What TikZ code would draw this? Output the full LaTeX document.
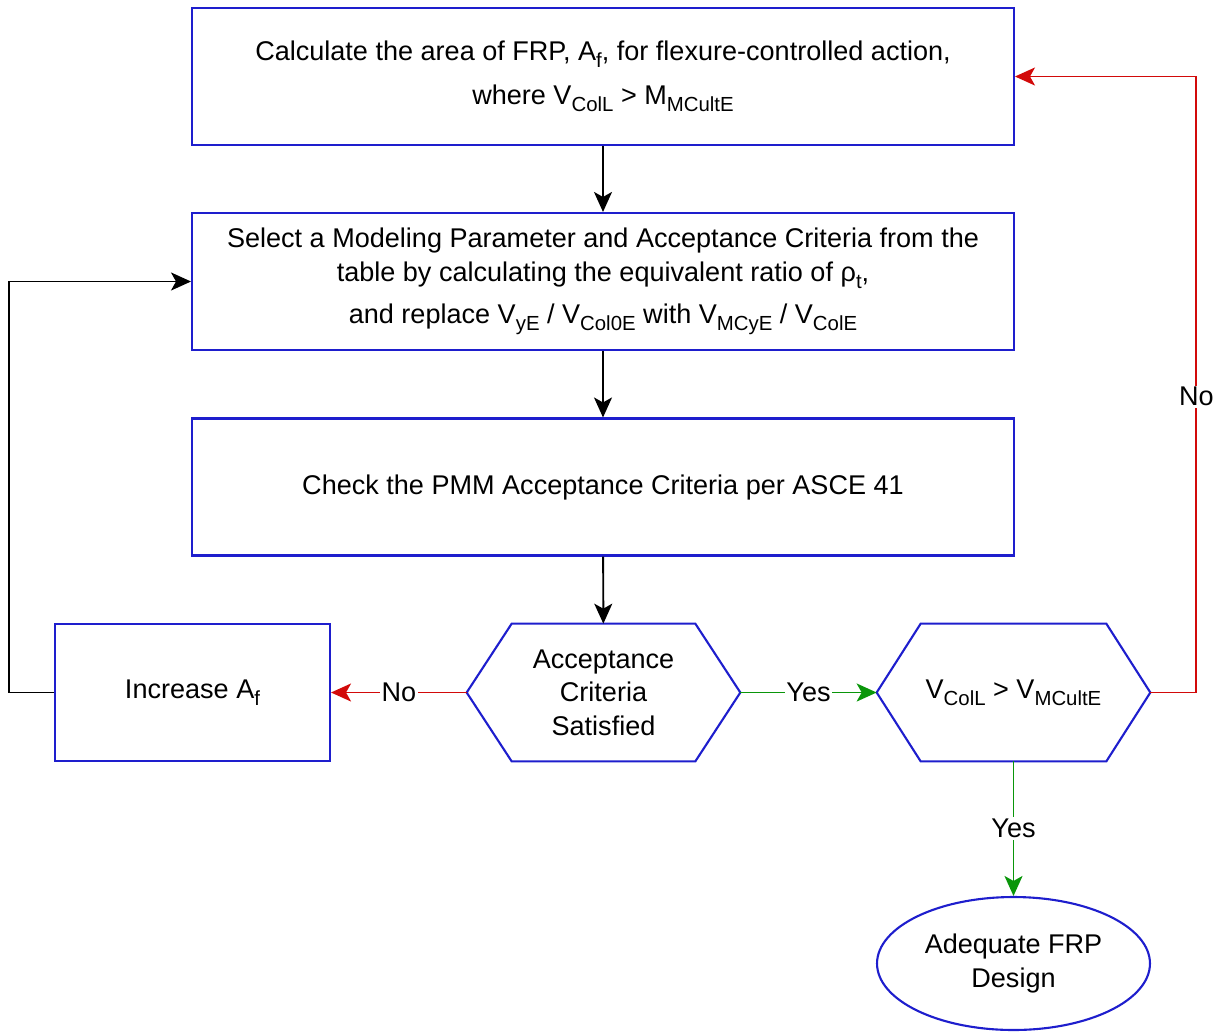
\documentclass[tikz,border=0pt]{standalone}
\usepackage{fontspec}
\setmainfont{Liberation Sans}
\usetikzlibrary{arrows.meta,shapes.geometric}
\definecolor{boxblue}{RGB}{30,30,205}
\definecolor{nored}{RGB}{210,10,10}
\definecolor{yesgreen}{RGB}{10,150,10}
\newcommand{\subtx}[1]{\raisebox{-4pt}{\fontsize{11.6}{12}\selectfont #1}}

\begin{document}
\begin{tikzpicture}[x=0.02cm,y=-0.02cm]
        \tikzstyle{txt}=[font=\fontsize{15.4}{19}\selectfont]
        \tikzstyle{box}=[txt, rectangle, draw=boxblue, line width=1.2pt, minimum width=16.44cm, minimum height=2.74cm, align=center]
        \tikzstyle{small box}=[box, minimum width=5.5cm]
        \tikzstyle{hexa}=[txt, rectangle, minimum width=5.46cm, minimum height=2.74cm, align=center]
        \tikzstyle{hexline}=[draw=boxblue, line width=1.2pt]
        \tikzstyle{endstate}=[txt, ellipse, draw=boxblue, line width=1.2pt, minimum width=5.46cm, minimum height=2.66cm, align=center, inner sep=0pt]
        \tikzstyle{arr}=[line width=1.1pt, -{Stealth[length=0.4cm, width=0.36cm, inset=0.1cm]}]
        \tikzstyle{lbl}=[txt, fill=white, inner sep=1pt]

        \useasboundingbox (0,0) rectangle (1224,1032);

        \node[box] (area) at (603,76.5) {Calculate the area of FRP, A\subtx{f}, for flexure-controlled action,\\[6pt] where V\subtx{ColL} > M\subtx{MCultE}};
        \node[box] (select) at (603,281.5) {Select a Modeling Parameter and Acceptance Criteria from the\\ table by calculating the equivalent ratio of ρ\subtx{t},\\[5pt] and replace V\subtx{yE} / V\subtx{Col0E} with V\subtx{MCyE} / V\subtx{ColE}};
        \node[box] (check) at (603,487) {Check the PMM Acceptance Criteria per ASCE 41};
        \node[small box] (increase) at (192.5,692.5) {Increase A\subtx{f}};
        \node[hexa] (accept) at (603.5,692.5) {Acceptance\\ Criteria\\ Satisfied};
        \node[hexa] (cond) at (1013.5,692.5) {V\subtx{ColL} > V\subtx{MCultE}};
        \node[endstate] (adequate) at (1013.5,963.5) {Adequate FRP\\ Design};

        \draw[hexline] (accept.west) -- ([xshift=0.9cm]accept.north west) -- ([xshift=-0.9cm]accept.north east) -- (accept.east) -- ([xshift=-0.9cm]accept.south east) -- ([xshift=0.9cm]accept.south west) -- cycle;
        \draw[hexline] (cond.west) -- ([xshift=0.88cm]cond.north west) -- ([xshift=-0.88cm]cond.north east) -- (cond.east) -- ([xshift=-0.88cm]cond.south east) -- ([xshift=0.88cm]cond.south west) -- cycle;

        \draw[arr] (area) -- (select);
        \draw[arr] (select) -- (check);
        \draw[arr] (check) -- (accept);
        \draw[arr, nored] (accept.west) -- node[lbl, text=black] {No} (increase.east);
        \draw[arr, yesgreen] (accept.east) -- node[lbl, text=black] {Yes} (cond.west);
        \draw[arr, yesgreen] (cond.south) -- node[lbl, text=black] {Yes} (adequate.north);
        \draw[arr, nored] (cond.east) -- ++(46,0) |- node[lbl, text=black, pos=0.24] {No} (area.east);
        \draw[arr] (increase.west) -- ++(-45,0) |- (select.west);
\end{tikzpicture}
\end{document}
